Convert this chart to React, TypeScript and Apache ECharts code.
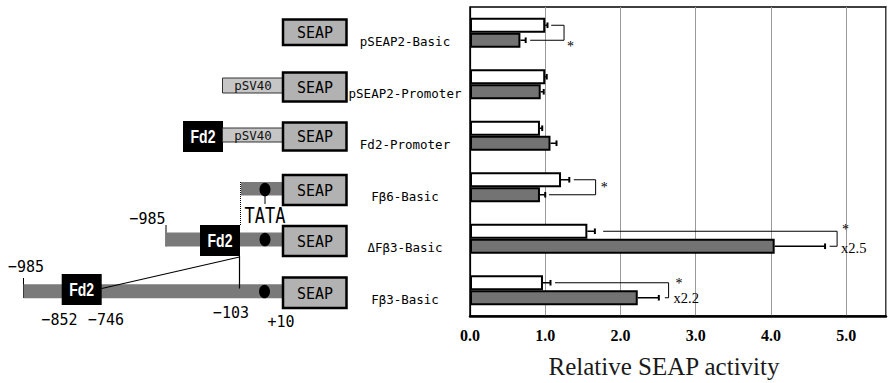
import React, { useEffect, useRef } from 'react';
import * as echarts from 'echarts';

// ---------- data ----------
const categories = ['pSEAP2-Basic', 'pSEAP2-Promoter', 'Fd2-Promoter', 'Fβ6-Basic', 'ΔFβ3-Basic', 'Fβ3-Basic'];
const whiteMean = [1.0, 1.0, 0.93, 1.21, 1.56, 0.97];
const whiteUpper = [1.03, 1.02, 0.96, 1.32, 1.66, 1.07];
const grayMean = [0.67, 0.94, 1.07, 0.93, 4.05, 2.23];
const grayUpper = [0.74, 0.98, 1.15, 1.0, 4.72, 2.51];
const xTickValues = [0, 1, 2, 3, 4, 5];

// significance brackets (values in axis units)
const sigRow = [0, 3, 4, 5];
const sigTopFrom = [1.08, 1.38, 1.77, 1.13];
const sigBottomFrom = [0.8, 1.05, 4.78, 2.59];
const sigRight = [1.25, 1.67, 4.88, 2.64];
const sigStar = ['*', '*', '*', '*'];
const sigFold = ['', '', 'x2.5', 'x2.2'];

// label layout for brackets (pixels)
const starLayout = [
  { dx: 3, dy: 14 },
  { dx: 5, dy: 0 },
  { dx: 5, dy: -9 },
  { dx: 7, dy: -7 },
];
const foldLayout = [
  { dx: 0, dy: 0 },
  { dx: 0, dy: 0 },
  { dx: 4, dy: 9.5 },
  { dx: 5, dy: 8 },
];

const BAR_W = 15;
const MONO = 'DejaVu Sans Mono';
const SERIF = 'Liberation Serif, serif';

// ---------- diagram helpers ----------
const rect = (x: number, y: number, w: number, h: number, fill: string, stroke?: string, lw = 0) => ({
  type: 'rect',
  shape: { x, y, width: w, height: h },
  style: { fill, stroke: stroke || 'none', lineWidth: lw },
});
const txt = (x: number, y: number, text: string, size: number, opts: any = {}) => ({
  type: 'text',
  x,
  y,
  scaleY: opts.scaleY || 1,
  style: {
    text,
    fontSize: size,
    fontFamily: opts.family || MONO,
    fontWeight: opts.weight || 'normal',
    fill: opts.fill || '#000',
    align: opts.align || 'center',
    verticalAlign: 'middle',
  },
});
const line = (x1: number, y1: number, x2: number, y2: number, lw = 1, dash?: number[]) => ({
  type: 'line',
  shape: { x1, y1, x2, y2 },
  style: { stroke: '#000', lineWidth: lw, lineDash: dash || null },
});
const oval = (cx: number, cy: number) => ({
  type: 'ellipse',
  shape: { cx, cy, rx: 5.5, ry: 6.8 },
  style: { fill: '#000' },
});

const SEAP_FILL = '#b2b2b2';
const SV40_FILL = '#c6c6c6';
const PROM_FILL = '#7a7a7a';

const seap = (y: number, h: number) => [
  rect(283, y, 63.5, h, SEAP_FILL, '#000', 2.5),
  txt(315, y + h / 2, 'SEAP', 15, { scaleY: 1.1 }),
];
const sv40 = (y: number, h: number) => [
  rect(222.5, y, 60.5, h, SV40_FILL, '#333', 1),
  txt(253, y + h / 2, 'pSV40', 12.5, { fill: '#111' }),
];
const fd2 = (x: number, y: number) => [
  rect(x, y, 40, 31, '#000'),
  txt(x + 20, y + 15.5, 'Fd2', 14, { family: 'Liberation Sans', weight: 'bold', fill: '#fff', scaleY: 1.3 }),
];

const diagram: any[] = [
  // row 1
  ...seap(19.5, 25.5),
  // row 2
  ...sv40(78, 15),
  ...seap(72.5, 29),
  // row 3
  ...fd2(183, 121),
  ...sv40(128, 14),
  ...seap(122.5, 28),
  // row 4
  rect(241, 182, 42, 13.5, PROM_FILL),
  line(265, 189, 265, 204, 1),
  oval(265, 189.5),
  line(240.5, 182, 240.5, 226, 1, [1, 1]),
  txt(265, 216, 'TATA', 17, { scaleY: 1.2 }),
  ...seap(175, 30),
  // row 5
  txt(147.5, 218, '−985', 15, { scaleY: 1.1 }),
  line(166, 225, 166, 246.5, 1),
  rect(166, 232.5, 117, 14, PROM_FILL),
  ...fd2(200, 225),
  oval(265, 239.5),
  ...seap(226, 30),
  // row 6
  txt(26, 266.5, '−985', 15, { scaleY: 1.1 }),
  line(23.5, 278, 23.5, 298, 1),
  rect(23.5, 284.3, 259.5, 14, PROM_FILL),
  ...fd2(61.7, 274),
  line(101.7, 288.5, 239.5, 257, 1.2),
  line(239.5, 256, 239.5, 288.5, 1.2),
  oval(264.5, 291.5),
  ...seap(277.5, 30.5),
  txt(59.5, 319, '−852', 15, { scaleY: 1.1 }),
  txt(106, 319, '−746', 15, { scaleY: 1.1 }),
  txt(231, 312.5, '−103', 15, { scaleY: 1.1 }),
  txt(281, 321, '+10', 15, { scaleY: 1.1 }),
  // axis title
  txt(664, 366, 'Relative SEAP activity', 25, { family: SERIF, fill: '#1a1a1a' }),
];

// ---------- custom renderers ----------
const errorRenderer = (offset: number) => (params: any, api: any) => {
  const cat = api.value(0);
  const p0 = api.coord([api.value(1), cat]);
  const p1 = api.coord([api.value(2), cat]);
  const y = p0[1] + offset;
  return {
    type: 'group',
    children: [
      { type: 'line', shape: { x1: p0[0], y1: y, x2: p1[0], y2: y }, style: { stroke: '#000', lineWidth: 1.5 } },
      { type: 'line', shape: { x1: p1[0], y1: y - 2.8, x2: p1[0], y2: y + 2.8 }, style: { stroke: '#000', lineWidth: 2 } },
    ],
  };
};

const bracketRenderer = (params: any, api: any) => {
  const k = params.dataIndex;
  const cat = api.value(0);
  const c = api.coord([0, cat])[1];
  const yT = c - BAR_W / 2;
  const yB = c + BAR_W / 2;
  const xT = api.coord([api.value(1), cat])[0];
  const xB = api.coord([api.value(2), cat])[0];
  const xR = api.coord([api.value(3), cat])[0];
  const children: any[] = [
    {
      type: 'polyline',
      shape: { points: [[xT, yT], [xR, yT], [xR, yB], [xB, yB]] },
      style: { stroke: '#000', lineWidth: 1, fill: 'none' },
    },
    {
      type: 'text',
      x: xR + starLayout[k].dx,
      y: c + starLayout[k].dy,
      style: { text: sigStar[k], fontFamily: SERIF, fontSize: 14, fill: '#000', align: 'left', verticalAlign: 'middle' },
    },
  ];
  if (sigFold[k]) {
    children.push({
      type: 'text',
      x: xR + foldLayout[k].dx,
      y: c + foldLayout[k].dy,
      style: { text: sigFold[k], fontFamily: SERIF, fontSize: 14.5, fill: '#000', align: 'left', verticalAlign: 'middle' },
    });
  }
  return { type: 'group', children };
};

export default function App() {
  const ref = useRef<HTMLDivElement>(null);
  useEffect(() => {
    document.body.style.margin = '0';
    const chart = echarts.init(ref.current!, null, { renderer: 'svg' });
    const option: any = {
      animation: false,
      backgroundColor: '#fff',
      grid: { left: 470, right: -2, top: 7, bottom: 67, show: true, borderColor: '#000', borderWidth: 1.5 },
      xAxis: {
        type: 'value',
        min: 0,
        max: 5.53,
        interval: 1,
        axisLine: { show: true, lineStyle: { color: '#000', width: 2.5 } },
        axisTick: { show: false },
        splitLine: { show: true, lineStyle: { color: '#9a9a9a', width: 1 } },
        axisLabel: {
          margin: 11,
          fontFamily: SERIF,
          fontWeight: 'bold',
          fontSize: 16,
          color: '#000',
          formatter: (v: number) => (xTickValues.indexOf(v) >= 0 ? v.toFixed(1) : ''),
        },
      },
      yAxis: {
        type: 'category',
        data: categories,
        inverse: true,
        axisLine: { show: true, lineStyle: { color: '#000', width: 1.2 } },
        axisTick: { show: false },
        splitLine: { show: false },
        axisLabel: {
          fontFamily: MONO,
          fontSize: 12.5,
          color: '#000',
          align: 'center',
          verticalAlign: 'top',
          lineHeight: 18,
          margin: 65,
        },
      },
      graphic: { elements: diagram },
      series: [
        {
          type: 'bar',
          data: whiteMean,
          barWidth: BAR_W,
          barGap: '0%',
          itemStyle: { color: '#fff', borderColor: '#000', borderWidth: 2 },
          z: 3,
        },
        {
          type: 'bar',
          data: grayMean,
          barWidth: BAR_W,
          barGap: '0%',
          itemStyle: { color: '#737373', borderColor: '#000', borderWidth: 2 },
          z: 3,
        },
        {
          type: 'custom',
          coordinateSystem: 'cartesian2d',
          renderItem: errorRenderer(-BAR_W / 2),
          data: categories.map((_, i) => [i, whiteMean[i], whiteUpper[i]]),
          encode: { x: [1, 2], y: 0 },
          z: 5,
        },
        {
          type: 'custom',
          coordinateSystem: 'cartesian2d',
          renderItem: errorRenderer(BAR_W / 2),
          data: categories.map((_, i) => [i, grayMean[i], grayUpper[i]]),
          encode: { x: [1, 2], y: 0 },
          z: 5,
        },
        {
          type: 'custom',
          coordinateSystem: 'cartesian2d',
          renderItem: bracketRenderer,
          data: sigRow.map((r, k) => [r, sigTopFrom[k], sigBottomFrom[k], sigRight[k]]),
          encode: { x: [1, 2, 3], y: 0 },
          z: 5,
        },
      ],
    };
    chart.setOption(option);
    return () => chart.dispose();
  }, []);
  return <div ref={ref} style={{ width: 889, height: 383 }} />;
}
